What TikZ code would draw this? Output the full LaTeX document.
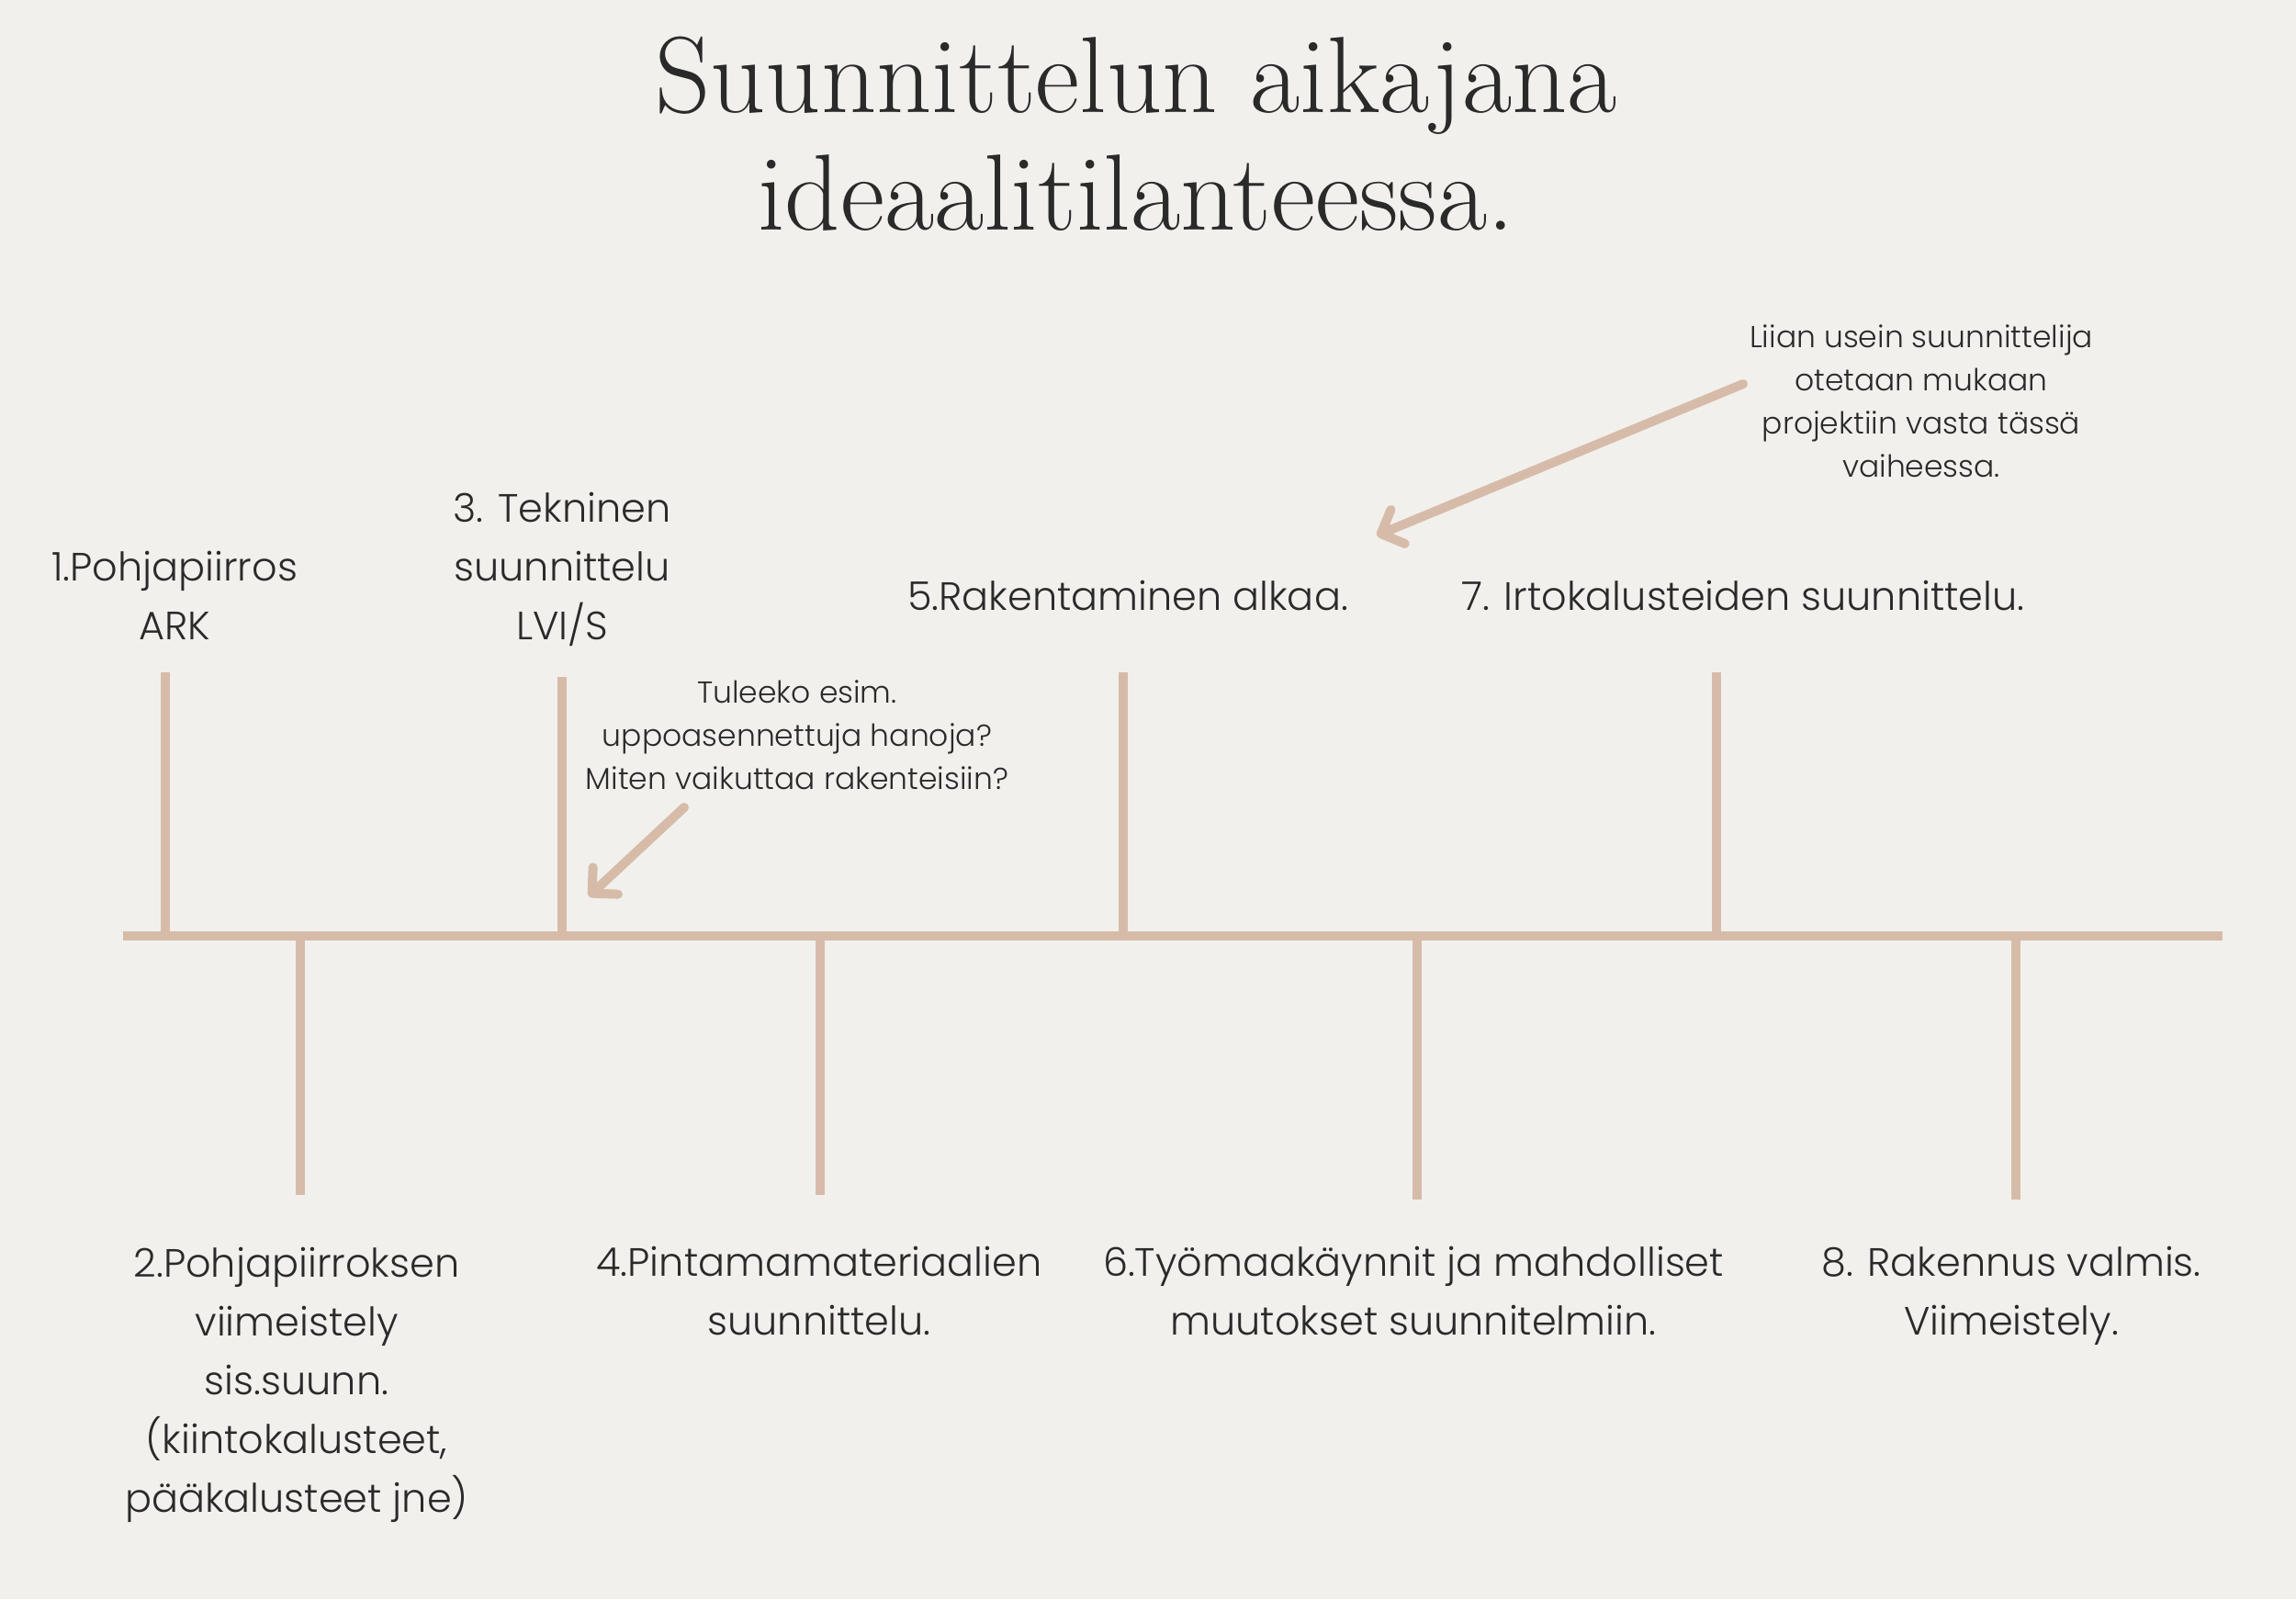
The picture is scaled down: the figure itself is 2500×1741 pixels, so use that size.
\documentclass[tikz,border=0pt]{standalone}
\usepackage{fontspec}
\setmainfont{Poppins}[UprightFont=* Light]
\newfontfamily\titlefont{Latin Modern Roman}
\usetikzlibrary{arrows.meta}
\definecolor{bg}{HTML}{F1F0EC}
\definecolor{tan}{HTML}{D7BBA9}
\definecolor{ink}{HTML}{2A2A2A}
\begin{document}
\begin{tikzpicture}[x=1pt,y=-1pt,
  tl/.style={draw=tan, line width=10pt},
  lbl/.style={font=\fontsize{43}{64}\selectfont, text=ink, align=center, anchor=base, inner sep=0pt},
  note/.style={font=\fontsize{33}{47}\selectfont, text=ink, align=center, anchor=base, inner sep=0pt},
  ttl/.style={font=\titlefont\fontsize{118}{128}\selectfont, text=ink, anchor=base, inner sep=0pt},
  pointer/.style={draw=tan, line width=10pt, line cap=round, -{Straight Barb[length=20pt,width=40pt,round]}}]
\useasboundingbox (0,0) rectangle (2500,1741);
\fill[bg] (0,0) rectangle (2500,1741);
% title
\node[ttl] (t1) at (1237,122) {Suunnittelun aikajana};
\node[ttl] (t2) at (1237,250) {ideaalitilanteessa.};
% timeline
\coordinate (L) at (134,1019);
\coordinate (R) at (2420,1019);
\draw[tl] (L) -- (R);
\coordinate (u1a) at (180,732);  \coordinate (u1b) at (180,1019);
\coordinate (u3a) at (612,737);  \coordinate (u3b) at (612,1019);
\coordinate (u5a) at (1223,732); \coordinate (u5b) at (1223,1019);
\coordinate (u7a) at (1869,732); \coordinate (u7b) at (1869,1019);
\coordinate (d2a) at (327,1019); \coordinate (d2b) at (327,1301);
\coordinate (d4a) at (893,1019); \coordinate (d4b) at (893,1301);
\coordinate (d6a) at (1543,1019); \coordinate (d6b) at (1543,1306);
\coordinate (d8a) at (2195,1019); \coordinate (d8b) at (2195,1306);
\draw[tl] (u1a) -- (u1b);
\draw[tl] (u3a) -- (u3b);
\draw[tl] (u5a) -- (u5b);
\draw[tl] (u7a) -- (u7b);
\draw[tl] (d2a) -- (d2b);
\draw[tl] (d4a) -- (d4b);
\draw[tl] (d6a) -- (d6b);
\draw[tl] (d8a) -- (d8b);
% labels (anchor = baseline of last line)
\node[lbl] (l1) at (190,696) {1.Pohjapiirros\\ARK};
\node[lbl] (l3) at (612,696) {3. Tekninen\\suunnittelu\\LVI/S};
\node[lbl] (l5) at (1228,664) {5.Rakentaminen alkaa.};
\node[lbl] (l7) at (1898,664) {7. Irtokalusteiden suunnittelu.};
\node[lbl] (l2) at (323,1646) {2.Pohjapiirroksen\\viimeistely\\sis.suunn.\\(kiintokalusteet,\\pääkalusteet jne)};
\node[lbl] (l4) at (892,1453) {4.Pintamamateriaalien\\suunnittelu.};
\node[lbl] (l6) at (1539,1453) {6.Työmaakäynnit ja mahdolliset\\muutokset suunnitelmiin.};
\node[lbl] (l8) at (2190,1453) {8. Rakennus valmis.\\Viimeistely.};
% notes
\node[note] (n1) at (868,859) {Tuleeko esim.\\uppoasennettuja hanoja?\\Miten vaikuttaa rakenteisiin?};
\node[note] (n2) at (2092,519) {Liian usein suunnittelija\\otetaan mukaan\\projektiin vasta tässä\\vaiheessa.};
% pointers
\coordinate (a1s) at (1898,418); \coordinate (a1e) at (1499,583);
\coordinate (a2s) at (745,879);  \coordinate (a2e) at (641,976);
\draw[pointer] (a1s) -- (a1e);
\draw[pointer] (a2s) -- (a2e);
\end{tikzpicture}
\end{document}
